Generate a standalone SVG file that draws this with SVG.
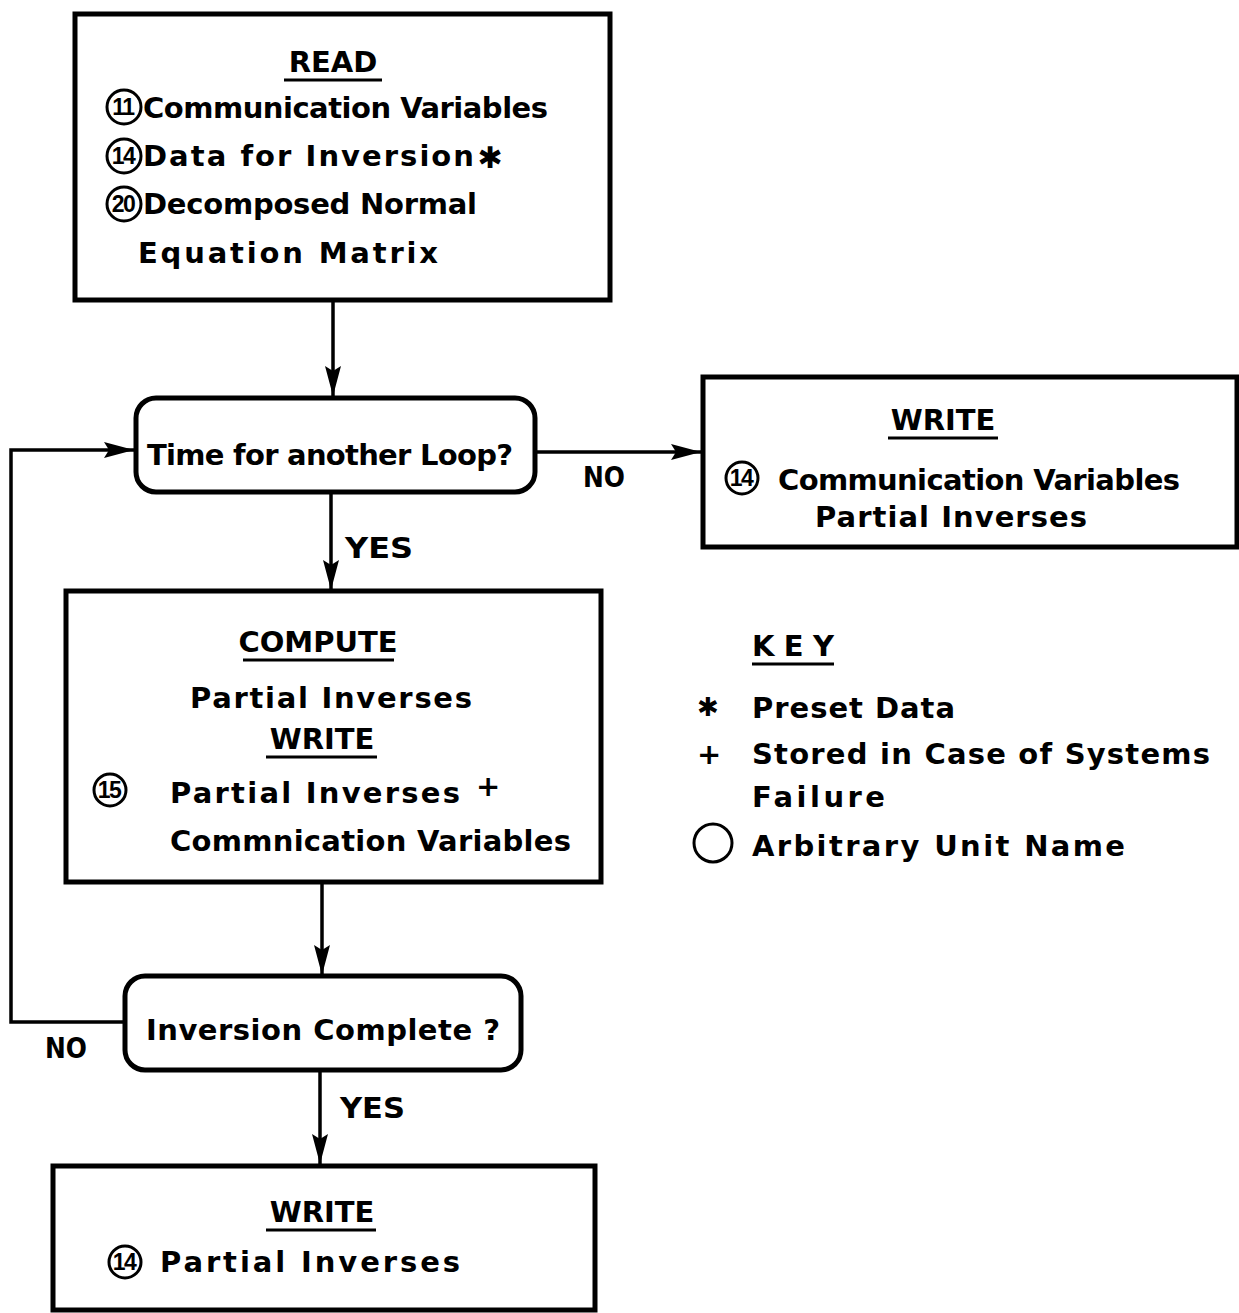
<svg xmlns="http://www.w3.org/2000/svg" width="1239" height="1313" viewBox="0 0 1239 1313">
<defs>
<style>
.box{fill:#fff;stroke:#000;stroke-width:5}
.t{font-family:"DejaVu Sans","Liberation Sans",sans-serif;font-size:29px;font-weight:600;fill:#000}
.c{text-anchor:middle}
.ul{stroke:#000;stroke-width:3}
.circ{fill:none;stroke:#000;stroke-width:3}
.n{font-family:"Liberation Sans",sans-serif;font-size:23px;font-weight:700;fill:#000;text-anchor:middle;letter-spacing:-1.5px}
.star{font-family:"DejaVu Sans",sans-serif;font-weight:700;fill:#000;text-anchor:middle}
.con{fill:none;stroke:#000;stroke-width:3.5}
</style>
<marker id="ah" markerWidth="30" markerHeight="16" refX="30" refY="8" orient="auto" markerUnits="userSpaceOnUse">
<path d="M0,0 L30,8 L0,16 L5,8 Z" fill="#000"/>
</marker>
</defs>
<rect width="1239" height="1313" fill="#fff"/>

<g id="connectors">
<path class="con" d="M333,300 V396" marker-end="url(#ah)"/>
<path class="con" d="M535,452 H701" marker-end="url(#ah)"/>
<path class="con" d="M331,492 V590" marker-end="url(#ah)"/>
<path class="con" d="M322,882 V975" marker-end="url(#ah)"/>
<path class="con" d="M125,1022 H11 V450 H134" marker-end="url(#ah)"/>
<path class="con" d="M320,1070 V1164" marker-end="url(#ah)"/>
<text class="t" x="583" y="487" textLength="42" lengthAdjust="spacingAndGlyphs">NO</text>
<text class="t" x="345" y="558" textLength="68" lengthAdjust="spacingAndGlyphs">YES</text>
<text class="t" x="45" y="1058" textLength="42" lengthAdjust="spacingAndGlyphs">NO</text>
<text class="t" x="340" y="1118" textLength="65" lengthAdjust="spacingAndGlyphs">YES</text>
</g>

<g id="read">
<rect class="box" x="75" y="14" width="535" height="286"/>
<text class="t c" x="333" y="72">READ</text>
<line class="ul" x1="284" y1="80" x2="382" y2="80"/>
<circle class="circ" cx="124" cy="107" r="17"/>
<text class="n" x="123" y="115">11</text>
<text class="t" x="143" y="118" textLength="405" lengthAdjust="spacing">Communication Variables</text>
<circle class="circ" cx="124" cy="156" r="17"/>
<text class="n" x="123" y="164">14</text>
<text class="t" x="143" y="166" textLength="331" lengthAdjust="spacing">Data for Inversion</text>
<text class="star" x="490" y="168" font-size="30">✱</text>
<circle class="circ" cx="124" cy="204" r="17"/>
<text class="n" x="123" y="212">20</text>
<text class="t" x="143" y="214" textLength="334" lengthAdjust="spacing">Decomposed Normal</text>
<text class="t" x="138" y="263" textLength="300" lengthAdjust="spacing">Equation  Matrix</text>
</g>

<g id="decision-loop">
<rect class="box" x="136" y="398" width="399" height="94" rx="20"/>
<text class="t" x="147" y="465" textLength="366" lengthAdjust="spacing">Time for another Loop?</text>
</g>

<g id="write-right">
<rect class="box" x="703" y="377" width="534" height="170"/>
<text class="t c" x="943" y="430">WRITE</text>
<line class="ul" x1="888" y1="438" x2="998" y2="438"/>
<circle class="circ" cx="742" cy="478" r="16"/>
<text class="n" x="741" y="486">14</text>
<text class="t" x="778" y="490" textLength="402" lengthAdjust="spacing">Communication Variables</text>
<text class="t" x="815" y="527" textLength="272" lengthAdjust="spacing">Partial  Inverses</text>
</g>

<g id="compute">
<rect class="box" x="66" y="591" width="535" height="291"/>
<text class="t c" x="318" y="652">COMPUTE</text>
<line class="ul" x1="243" y1="660" x2="394" y2="660"/>
<text class="t" x="190" y="708" textLength="282" lengthAdjust="spacing">Partial  Inverses</text>
<text class="t c" x="322" y="749">WRITE</text>
<line class="ul" x1="266" y1="757" x2="377" y2="757"/>
<circle class="circ" cx="110" cy="790" r="16"/>
<text class="n" x="109" y="798">15</text>
<text class="t" x="170" y="803" textLength="290" lengthAdjust="spacing">Partial  Inverses</text>
<text class="t" x="476" y="796" font-size="30">+</text>
<text class="t" x="170" y="851" textLength="401" lengthAdjust="spacing">Commnication Variables</text>
</g>

<g id="decision-complete">
<rect class="box" x="125" y="976" width="396" height="94" rx="20"/>
<text class="t" x="146" y="1040" textLength="354" lengthAdjust="spacing">Inversion  Complete ?</text>
</g>

<g id="write-bottom">
<rect class="box" x="53" y="1166" width="542" height="144"/>
<text class="t c" x="322" y="1222">WRITE</text>
<line class="ul" x1="266" y1="1230" x2="376" y2="1230"/>
<circle class="circ" cx="125" cy="1262" r="16"/>
<text class="n" x="124" y="1270">14</text>
<text class="t" x="160" y="1272" textLength="300" lengthAdjust="spacing">Partial   Inverses</text>
</g>

<g id="key">
<text class="t" x="752" y="656" textLength="82" lengthAdjust="spacing">KEY</text>
<line class="ul" x1="752" y1="664" x2="834" y2="664"/>
<text class="star" x="708" y="716" font-size="26">✱</text>
<text class="t" x="752" y="718" textLength="203" lengthAdjust="spacing">Preset Data</text>
<text class="t" x="697" y="764" font-size="32">+</text>
<text class="t" x="752" y="764" textLength="458" lengthAdjust="spacing">Stored in Case of Systems</text>
<text class="t" x="752" y="807" textLength="133" lengthAdjust="spacing">Failure</text>
<circle class="circ" cx="713" cy="843" r="19"/>
<text class="t" x="752" y="856" textLength="373" lengthAdjust="spacing">Arbitrary Unit  Name</text>
</g>
</svg>
